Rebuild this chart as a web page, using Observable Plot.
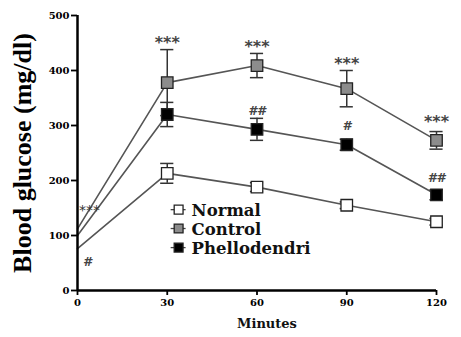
<!DOCTYPE html>
<html><head><meta charset="utf-8">
<script src="https://cdn.jsdelivr.net/npm/d3@7"></script>
<script src="https://cdn.jsdelivr.net/npm/@observablehq/plot@0.6"></script>
<style>body{margin:0;background:#fff}</style>
</head><body><div id="chart"></div>
<script>
const minutes = [0, 30, 60, 90, 120];
const normalMean = [76, 213, 188, 155, 125];
const normalErr = [0, 18, 8, 6, 6];
const controlMean = [112, 378, 409, 367, 273];
const controlErr = [0, 60, 22, 33, 16];
const phelloMean = [100, 320, 293, 265, 174];
const phelloErr = [0, 22, 20, 10, 9];
const seriesNames = ["Normal", "Control", "Phellodendri"];
const seriesFill = ["white", "#8c8c8c", "black"];
const starNotes = [
  {t: 30, v: 458, s: "***"}, {t: 60, v: 451, s: "***"}, {t: 90, v: 420, s: "***"}, {t: 120, v: 313, s: "***"}
];
const smallStarNotes = [{t: 4, v: 151, s: "***"}];
const hashNotes = [
  {t: 3.3, v: 51, s: "#"}, {t: 60, v: 327, s: "##"}, {t: 90, v: 300, s: "#"}, {t: 120, v: 205, s: "##"}
];
const yTicks = [0, 100, 200, 300, 400, 500];
const xTicks = [0, 30, 60, 90, 120];
const legendT = 33.8;
const legendV = [147, 112.7, 78];

const data = [];
[normalMean, controlMean, phelloMean].forEach((arr, i) => {
  const errs = [normalErr, controlErr, phelloErr][i];
  arr.forEach((v, j) => data.push({series: seriesNames[i], t: minutes[j], v, e: errs[j], fill: seriesFill[i]}));
});
const pts = data.filter(d => d.t > 0);
const bars = data.filter(d => d.e > 0);
const legend = seriesNames.map((s, i) => ({s, fill: seriesFill[i], t: legendT, v: legendV[i]}));

const serif = "'Liberation Serif', serif";
const wide = "'DejaVu Serif', serif";
const sans = "'DejaVu Sans', sans-serif";
const plot = Plot.plot({
  width: 461, height: 337,
  marginLeft: 77, marginRight: 25, marginTop: 15, marginBottom: 47,
  style: {fontFamily: wide, background: "white"},
  x: {domain: [0, 120], ticks: xTicks},
  y: {domain: [0, 500], ticks: yTicks},
  marks: [
    Plot.line(data, {x: "t", y: "v", z: "series", stroke: "#555", strokeWidth: 1.6}),
    Plot.ruleX(bars, {x: "t", y1: d => d.v - d.e, y2: d => d.v + d.e, stroke: "#333", strokeWidth: 1.5}),
    Plot.ruleY(bars, {x1: d => d.t - 2.2, x2: d => d.t + 2.2, y: d => d.v + d.e, stroke: "#333", strokeWidth: 1.5}),
    Plot.ruleY(bars, {x1: d => d.t - 2.2, x2: d => d.t + 2.2, y: d => d.v - d.e, stroke: "#333", strokeWidth: 1.5}),
    Plot.dot(pts, {x: "t", y: "v", symbol: "square", r: 6.5, fill: "fill", stroke: "#222", strokeWidth: 1.3}),
    Plot.text(starNotes, {x: "t", y: "v", text: "s", fontFamily: sans, fontSize: 16, fontWeight: "bold", fill: "#444", dy: 4, letterSpacing: 1}),
    Plot.text(smallStarNotes, {x: "t", y: "v", text: "s", fontFamily: sans, fontSize: 14, fill: "#333", dy: 3}),
    Plot.text(hashNotes, {x: "t", y: "v", text: "s", fontFamily: sans, fontSize: 12.5, fontWeight: "bold", fontStyle: "italic", fill: "#444"}),
    Plot.ruleY(legend, {x1: d => d.t - 2.5, x2: d => d.t + 2.5, y: "v", stroke: "#444", strokeWidth: 1.3}),
    Plot.dot(legend, {x: "t", y: "v", symbol: "square", r: 5, fill: "fill", stroke: "#222", strokeWidth: 1.3}),
    Plot.text(legend, {x: "t", y: "v", text: "s", dx: 13, dy: 1, textAnchor: "start", fontFamily: wide, fontSize: 16.5, fontWeight: "bold", fill: "#111"}),
    Plot.axisY({ticks: yTicks, tickSize: 6, fontSize: 10, fontWeight: "bold", label: null, tickPadding: 2, stroke: "black", strokeWidth: 1.8}),
    Plot.axisX({ticks: xTicks, tickSize: 5, fontSize: 10, fontWeight: "bold", label: null, tickPadding: 3, stroke: "black", strokeWidth: 1.8}),
    Plot.ruleX([0], {stroke: "black", strokeWidth: 2.5}),
    Plot.ruleY([0], {stroke: "black", strokeWidth: 2.5}),
    Plot.text(["Blood glucose (mg/dl)"], {frameAnchor: "left", dx: -55, rotate: -90, textAnchor: "middle", fontFamily: serif, fontSize: 26, fontWeight: "bold", fill: "black"}),
    Plot.text(["Minutes"], {frameAnchor: "bottom", dx: 10, dy: 37, fontFamily: wide, fontSize: 13, fontWeight: "bold", fill: "#111"})
  ]
});
document.getElementById("chart").append(plot);
</script>
</body></html>
